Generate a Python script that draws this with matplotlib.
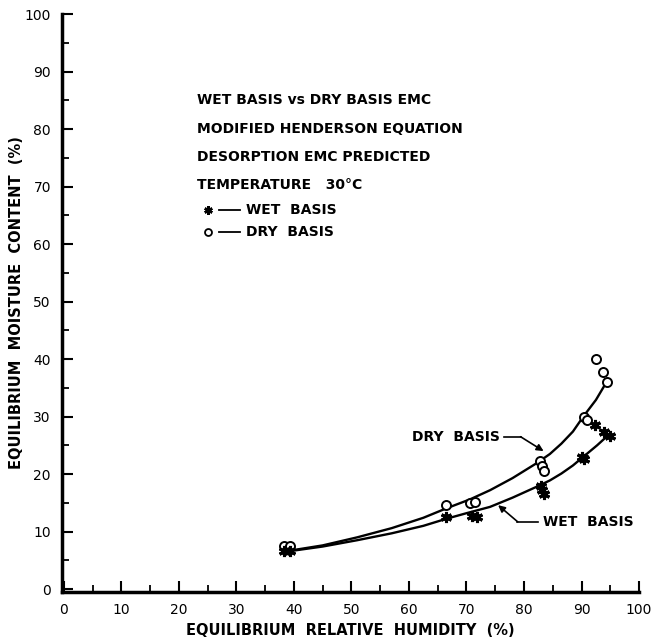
import matplotlib
matplotlib.use("Agg")
import matplotlib.pyplot as plt
from matplotlib.ticker import MultipleLocator

wet_rh = [38.3, 39.3, 66.4, 70.9, 71.8, 83.0, 83.2, 83.5, 90.0, 90.4, 92.3, 93.9, 95.0]
wet_emc = [6.7, 6.7, 12.6, 12.7, 12.6, 18.0, 17.2, 16.5, 22.9, 22.6, 28.5, 27.4, 26.6]
dry_rh = [38.3, 39.3, 66.4, 70.6, 71.4, 82.8, 83.1, 83.4, 90.4, 91.0, 92.5, 93.7, 94.5]
dry_emc = [7.5, 7.5, 14.7, 14.9, 15.1, 22.3, 21.4, 20.5, 30.0, 29.4, 40.0, 37.7, 36.1]

# predicted curves
dry_curve_rh = [40, 45, 51, 57, 62.5, 66.4, 70.6, 74.1, 78, 82.2, 84.5, 86.5, 88.5, 90.3, 92.5, 94.4]
dry_curve_emc = [6.8, 7.6, 9.0, 10.6, 12.4, 14.0, 15.6, 17.2, 19.3, 21.9, 23.5, 25.3, 27.4, 30.0, 32.9, 36.1]
wet_curve_rh = [40, 45, 51, 57, 62.5, 66.4, 70, 74.1, 78, 82.2, 84.5, 86.5, 88.5, 90.3, 92.7, 95.0]
wet_curve_emc = [6.7, 7.4, 8.5, 9.7, 11.0, 12.2, 13.2, 14.3, 15.9, 17.8, 18.9, 20.1, 21.5, 23.0, 25.0, 27.1]

title_lines = ["WET BASIS vs DRY BASIS EMC",
               "MODIFIED HENDERSON EQUATION",
               "DESORPTION EMC PREDICTED",
               "TEMPERATURE   30\u00b0C"]

fnt = dict(family="DejaVu Sans", fontweight="bold", color="black")

fig = plt.figure(figsize=(6.55, 6.41), dpi=100)
ax = fig.add_axes([0.0947, 0.0765, 0.881, 0.9015])

ax.plot(dry_curve_rh, dry_curve_emc, color="black", lw=1.7)
ax.plot(wet_curve_rh, wet_curve_emc, color="black", lw=1.7)
ax.plot(dry_rh, dry_emc, ls="none", marker="o", ms=6.5, mfc="white", mec="black", mew=1.4)
ax.plot(wet_rh, wet_emc, ls="none", marker=(6, 2, 0), ms=8, color="black", mew=2.2)

ax.set_xlim(-0.3, 100)
ax.set_ylim(-0.5, 100)
for s in ["top", "right"]:
    ax.spines[s].set_visible(False)
for s in ["left", "bottom"]:
    ax.spines[s].set_linewidth(2.5)
ax.xaxis.set_major_locator(MultipleLocator(10))
ax.xaxis.set_minor_locator(MultipleLocator(5))
ax.yaxis.set_major_locator(MultipleLocator(10))
ax.yaxis.set_minor_locator(MultipleLocator(5))
ax.tick_params(which="major", direction="in", length=8, width=1.5, labelsize=10, pad=8)
ax.tick_params(which="minor", direction="in", length=5, width=1.3)
for lab in ax.get_xticklabels() + ax.get_yticklabels():
    lab.set_fontfamily("DejaVu Sans")

ax.set_xlabel("EQUILIBRIUM  RELATIVE  HUMIDITY  (%)", fontsize=10.5, labelpad=4, **fnt)
ax.set_ylabel("EQUILIBRIUM  MOISTURE  CONTENT  (%)", fontsize=10.5, **fnt)
ax.yaxis.set_label_coords(-0.066, 0.5)

ty = [85.0, 80.1, 75.1, 70.2]
for t, y in zip(title_lines, ty):
    ax.text(23.1, y, t, fontsize=10, va="center", ha="left", **fnt)

ax.plot([25.0], [65.9], ls="none", marker=(6, 2, 0), ms=6, color="black", mew=1.8)
ax.plot([25.0], [62.1], ls="none", marker="o", ms=5, mfc="white", mec="black", mew=1.3)
ax.plot([27.0, 30.6], [65.9, 65.9], color="black", lw=1.3)
ax.plot([27.0, 30.6], [62.1, 62.1], color="black", lw=1.3)
ax.text(31.6, 65.9, "WET  BASIS", fontsize=10, va="center", ha="left", **fnt)
ax.text(31.6, 62.1, "DRY  BASIS", fontsize=10, va="center", ha="left", **fnt)

# curve labels with leaders
ax.text(75.8, 26.5, "DRY  BASIS", fontsize=10, va="center", ha="right", **fnt)
ax.plot([76.6, 79.5], [26.5, 26.5], color="black", lw=1.2)
ax.annotate("", xy=(83.4, 24.0), xytext=(79.4, 26.5),
            arrowprops=dict(arrowstyle="-|>", color="black", lw=1.2, mutation_scale=10, shrinkA=0, shrinkB=0))
ax.text(83.3, 11.7, "WET  BASIS", fontsize=10, va="center", ha="left", **fnt)
ax.plot([78.8, 82.4], [11.7, 11.7], color="black", lw=1.2)
ax.annotate("", xy=(75.5, 14.6), xytext=(78.9, 11.7),
            arrowprops=dict(arrowstyle="-|>", color="black", lw=1.2, mutation_scale=10, shrinkA=0, shrinkB=0))

fig.savefig("out.png", dpi=100)
